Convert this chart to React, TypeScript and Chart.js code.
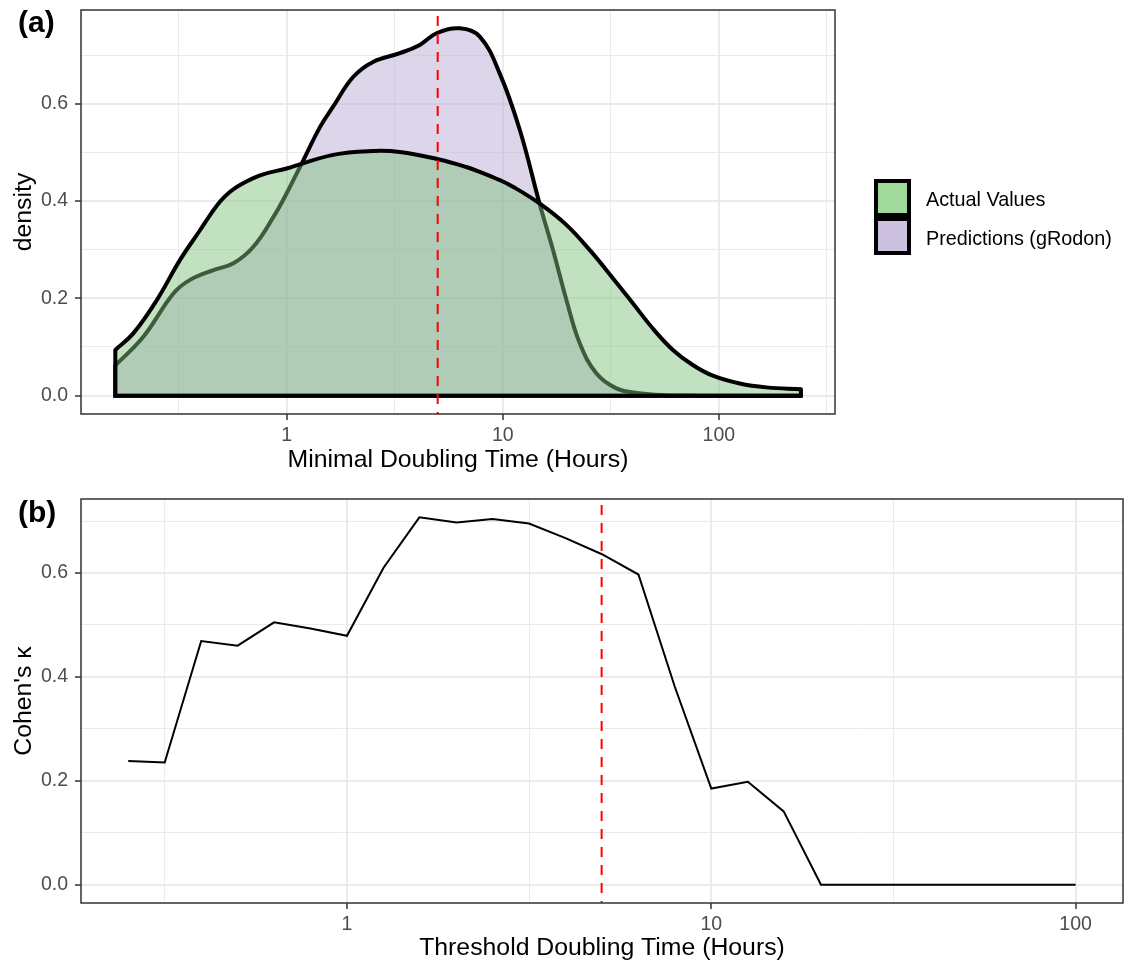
import React, { useEffect, useRef } from 'react';
import { Chart, registerables } from 'chart.js';

Chart.register(...registerables);

const FONT = "'Liberation Sans', Arial, Helvetica, sans-serif";

// ---------- Panel (a): density of minimal doubling time ----------
const SERIES_NAMES = ['Actual Values', 'Predictions (gRodon)'];

const ACTUAL_X = [0.161, 0.195, 0.251, 0.321, 0.397, 0.442, 0.492, 0.547, 0.608, 0.753, 1.0, 1.64, 2.51, 3.34, 5.02, 6.79, 7.83, 9.69, 11.2, 14.8, 19.7, 25.3, 32.4, 40.0, 49.5, 61.3, 75.8, 93.8, 125, 166, 240];
const ACTUAL_Y = [0.094, 0.128, 0.197, 0.279, 0.34, 0.371, 0.399, 0.419, 0.433, 0.453, 0.467, 0.495, 0.503, 0.501, 0.486, 0.47, 0.46, 0.443, 0.429, 0.395, 0.351, 0.299, 0.241, 0.19, 0.138, 0.094, 0.063, 0.041, 0.025, 0.017, 0.013];

const PRED_X = [0.161, 0.217, 0.299, 0.357, 0.458, 0.567, 0.701, 0.87, 1.0, 1.17, 1.43, 1.64, 2.03, 2.51, 3.34, 4.13, 4.94, 6.33, 7.83, 9.69, 12.0, 14.8, 17.1, 19.7, 22.7, 27.1, 33.6, 42.9, 57, 80, 240];
const PRED_Y = [0.062, 0.121, 0.21, 0.238, 0.258, 0.272, 0.306, 0.368, 0.416, 0.476, 0.553, 0.594, 0.655, 0.686, 0.704, 0.721, 0.745, 0.755, 0.738, 0.662, 0.546, 0.395, 0.299, 0.197, 0.108, 0.046, 0.015, 0.005, 0.001, 0, 0];

// ---------- Panel (b): Cohen's kappa vs threshold ----------
const THRESHOLD_X = [0.251, 0.316, 0.398, 0.501, 0.631, 0.794, 1, 1.26, 1.58, 2.0, 2.51, 3.16, 3.98, 5.01, 6.31, 7.94, 10, 12.6, 15.8, 20, 25.1, 31.6, 39.8, 50.1, 63.1, 79.4, 100];
const KAPPA = [0.238, 0.235, 0.469, 0.46, 0.505, 0.493, 0.479, 0.61, 0.707, 0.697, 0.704, 0.695, 0.667, 0.636, 0.597, 0.381, 0.185, 0.198, 0.141, 0, 0, 0, 0, 0, 0, 0, 0];

const THRESHOLD_LINE = 5;

// ---------- ticks ----------
const X_MAJOR_TICKS = [1, 10, 100];
const X_MINOR_TICKS_A = [0.3162, 3.162, 31.62, 316.2];
const X_MINOR_TICKS_B = [0.3162, 3.162, 31.62];
const Y_MAJOR_TICKS = [0, 0.2, 0.4, 0.6];
const Y_MINOR_TICKS = [0.1, 0.3, 0.5, 0.7];

// axis limits (ggplot 5% expansion of the data range)
const A_X_LIMITS = [0.1117, 345];
const A_Y_LIMITS = [-0.03775, 0.79275];
const B_X_LIMITS = [0.1862, 134.9];
const B_Y_LIMITS = [-0.03535, 0.74235];

const GREEN_FILL = 'rgba(125,192,125,0.48)';
const PURPLE_FILL = 'rgba(184,170,211,0.48)';
const GREEN_KEY = '#a1d99b';
const PURPLE_KEY = '#cbc1de';

const panelDecor = {
  id: 'panelDecor',
  afterDatasetsDraw(chart: any, _args: any, opts: any) {
    const { ctx, chartArea: a, scales } = chart;
    const xp = scales.x.getPixelForValue(opts.vline);
    ctx.save();
    ctx.beginPath();
    ctx.rect(a.left, a.top, a.right - a.left, a.bottom - a.top);
    ctx.clip();
    ctx.strokeStyle = '#ff0000';
    ctx.lineWidth = 2;
    ctx.setLineDash([10, 8]);
    ctx.beginPath();
    ctx.moveTo(xp, a.top + 6);
    ctx.lineTo(xp, a.bottom);
    ctx.stroke();
    ctx.restore();
    ctx.save();
    ctx.strokeStyle = '#333333';
    ctx.lineWidth = 1.5;
    ctx.strokeRect(a.left, a.top, a.right - a.left, a.bottom - a.top);
    ctx.restore();
  },
};

function xScale(limits: number[], minor: number[], title: string, height: number, titlePad: number) {
  const all = [...minor, ...X_MAJOR_TICKS].filter((v) => v >= limits[0] && v <= limits[1]).sort((p, q) => p - q);
  const isMajor = (v: any) => X_MAJOR_TICKS.includes(v);
  return {
    type: 'logarithmic',
    min: limits[0],
    max: limits[1],
    afterBuildTicks: (s: any) => {
      s.ticks = all.map((v) => ({ value: v }));
    },
    afterFit: (s: any) => {
      s.height = height;
      s.paddingLeft = 0;
      s.paddingRight = 0;
    },
    ticks: {
      autoSkip: false,
      maxRotation: 0,
      minRotation: 0,
      padding: 4,
      color: '#4d4d4d',
      font: { family: FONT, size: 19.5 },
      callback: (v: any) => (isMajor(v) ? String(v) : ''),
    },
    grid: {
      color: '#ebebeb',
      lineWidth: (c: any) => (isMajor(c.tick?.value) ? 2 : 1),
      drawTicks: true,
      tickLength: 6,
      tickWidth: 1.5,
      tickColor: (c: any) => (isMajor(c.tick?.value) ? '#333333' : 'rgba(0,0,0,0)'),
    },
    border: { display: false },
    title: {
      display: true,
      text: title,
      color: '#000000',
      font: { family: FONT, size: 24.8 },
      padding: { top: 0, bottom: titlePad },
    },
  };
}

function yScale(limits: number[], title: string, titlePad: number) {
  const all = [...Y_MAJOR_TICKS, ...Y_MINOR_TICKS].sort((p, q) => p - q);
  const isMajor = (v: any) => Y_MAJOR_TICKS.includes(v);
  return {
    type: 'linear',
    min: limits[0],
    max: limits[1],
    afterBuildTicks: (s: any) => {
      s.ticks = all.map((v) => ({ value: v }));
    },
    afterFit: (s: any) => {
      s.width = 81;
      s.paddingTop = 0;
      s.paddingBottom = 0;
    },
    ticks: {
      autoSkip: false,
      padding: 7,
      color: '#4d4d4d',
      font: { family: FONT, size: 19.5 },
      callback: (v: any) => (isMajor(v) ? Number(v).toFixed(1) : ''),
    },
    grid: {
      color: '#ebebeb',
      lineWidth: (c: any) => (isMajor(c.tick?.value) ? 2 : 1),
      drawTicks: true,
      tickLength: 6,
      tickWidth: 1.5,
      tickColor: (c: any) => (isMajor(c.tick?.value) ? '#333333' : 'rgba(0,0,0,0)'),
    },
    border: { display: false },
    title: {
      display: true,
      text: title,
      color: '#000000',
      font: { family: FONT, size: 24.8 },
      padding: { top: titlePad, bottom: 0 },
    },
  };
}

function curve(xs: number[], ys: number[]) {
  return xs.map((x, i) => ({ x, y: ys[i] }));
}

function edges(xs: number[], ys: number[]) {
  const n = xs.length - 1;
  return [
    { x: xs[0], y: ys[0] },
    { x: xs[0], y: 0 },
    { x: xs[n], y: 0 },
    { x: xs[n], y: ys[n] },
  ];
}

export default function App() {
  const refA = useRef<HTMLCanvasElement>(null);
  const refB = useRef<HTMLCanvasElement>(null);

  useEffect(() => {
    Chart.defaults.font.family = FONT;
    const common = {
      responsive: false,
      maintainAspectRatio: false,
      animation: false,
      events: [],
    };
    const chartA = new Chart(refA.current as HTMLCanvasElement, {
      type: 'line',
      data: {
        datasets: [
          {
            label: SERIES_NAMES[0] + ' outline',
            data: edges(ACTUAL_X, ACTUAL_Y),
            borderColor: '#000000',
            borderWidth: 4,
            borderJoinStyle: 'miter',
            borderCapStyle: 'round',
            tension: 0,
            pointRadius: 0,
            fill: false,
          },
          {
            label: SERIES_NAMES[0],
            data: curve(ACTUAL_X, ACTUAL_Y),
            borderColor: '#000000',
            borderWidth: 4,
            backgroundColor: GREEN_FILL,
            tension: 0.4,
            pointRadius: 0,
            fill: 'origin',
          },
          {
            label: SERIES_NAMES[1] + ' outline',
            data: edges(PRED_X, PRED_Y),
            borderColor: '#000000',
            borderWidth: 4,
            borderJoinStyle: 'miter',
            borderCapStyle: 'round',
            tension: 0,
            pointRadius: 0,
            fill: false,
          },
          {
            label: SERIES_NAMES[1],
            data: curve(PRED_X, PRED_Y),
            borderColor: '#000000',
            borderWidth: 4,
            backgroundColor: PURPLE_FILL,
            tension: 0.4,
            pointRadius: 0,
            fill: 'origin',
          },
        ],
      },
      options: {
        ...common,
        layout: { padding: { left: 0, top: 10, right: 290, bottom: 0 } },
        plugins: {
          legend: { display: false },
          tooltip: { enabled: false },
          panelDecor: { vline: THRESHOLD_LINE },
        },
        scales: {
          x: xScale(A_X_LIMITS, X_MINOR_TICKS_A, 'Minimal Doubling Time (Hours)', 66, 4.6),
          y: yScale(A_Y_LIMITS, 'density', 9),
        },
      } as any,
      plugins: [panelDecor],
    } as any);

    const chartB = new Chart(refB.current as HTMLCanvasElement, {
      type: 'line',
      data: {
        datasets: [
          {
            label: "Cohen's κ",
            data: curve(THRESHOLD_X, KAPPA),
            borderColor: '#000000',
            borderWidth: 2,
            tension: 0,
            pointRadius: 0,
            fill: false,
          },
        ],
      },
      options: {
        ...common,
        layout: { padding: { left: 0, top: 19, right: 2, bottom: 0 } },
        plugins: {
          legend: { display: false },
          tooltip: { enabled: false },
          panelDecor: { vline: THRESHOLD_LINE },
        },
        scales: {
          x: xScale(B_X_LIMITS, X_MINOR_TICKS_B, 'Threshold Doubling Time (Hours)', 63, 3.3),
          y: yScale(B_Y_LIMITS, "Cohen's κ", 9),
        },
      } as any,
      plugins: [panelDecor],
    } as any);

    return () => {
      chartA.destroy();
      chartB.destroy();
    };
  }, []);

  const keyStyle = (bg: string, top: number): React.CSSProperties => ({
    position: 'absolute',
    left: 874,
    top,
    width: 37,
    height: 38,
    boxSizing: 'border-box',
    border: '4.5px solid #000',
    background: bg,
  });
  const textStyle = (top: number): React.CSSProperties => ({
    position: 'absolute',
    left: 926,
    top: top - 12,
    height: 24,
    lineHeight: '24px',
    fontFamily: FONT,
    fontSize: 19.8,
    color: '#000',
    whiteSpace: 'nowrap',
  });
  const tagStyle = (top: number): React.CSSProperties => ({
    position: 'absolute',
    left: 18,
    top,
    fontFamily: FONT,
    fontWeight: 'bold',
    fontSize: 30,
    lineHeight: '30px',
    color: '#000',
  });

  return (
    <div style={{ position: 'absolute', left: 0, top: 0, width: 1125, height: 966, background: '#fff', overflow: 'hidden' }}>
      <canvas ref={refA} width={1125} height={480} style={{ position: 'absolute', left: 0, top: 0, width: 1125, height: 480 }} />
      <canvas ref={refB} width={1125} height={486} style={{ position: 'absolute', left: 0, top: 480, width: 1125, height: 486 }} />
      <div style={tagStyle(6.5)}>(a)</div>
      <div style={tagStyle(496.5)}>(b)</div>
      <div style={keyStyle(GREEN_KEY, 179)} />
      <div style={keyStyle(PURPLE_KEY, 217)} />
      <div style={textStyle(199)}>{SERIES_NAMES[0]}</div>
      <div style={textStyle(238)}>{SERIES_NAMES[1]}</div>
    </div>
  );
}
